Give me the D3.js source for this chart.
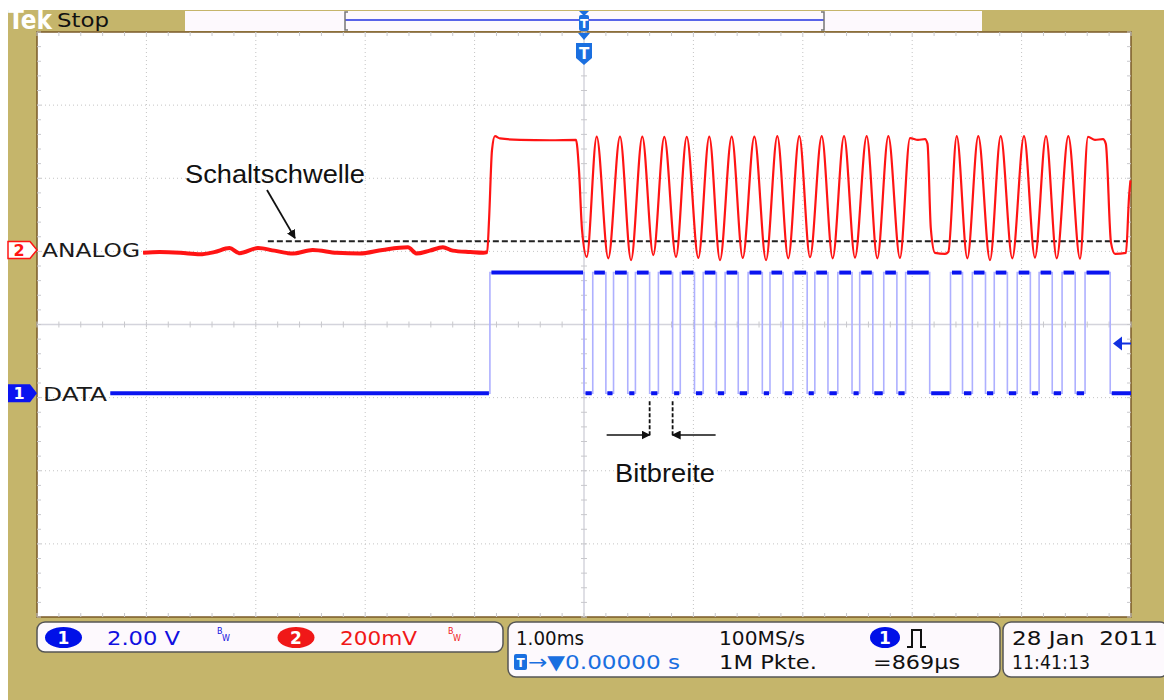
<!DOCTYPE html>
<html>
<head>
<meta charset="utf-8">
<script src="https://cdn.jsdelivr.net/npm/d3@7"></script>
<style>
body { margin: 0; background: #fff; }
svg text { font-family: "DejaVu Sans", sans-serif; white-space: pre; }
.note { font-family: "Liberation Sans", Arial, sans-serif; }
</style>
</head>
<body>
<svg id="chart" width="1164" height="700"></svg>
<script>
// ---- data ----

// DATA (ch1): times (ms, trigger = 0) of every edge, signal starts low
var dataEdgesMs = [-0.86, 0.00, 0.08, 0.20, 0.27, 0.40, 0.47, 0.60, 0.68, 0.81,
    0.88, 1.01, 1.09, 1.21, 1.29, 1.41, 1.50, 1.63, 1.70, 1.82,
    1.91, 2.04, 2.11, 2.23, 2.32, 2.45, 2.52, 2.64, 2.74, 2.86,
    2.94, 3.16, 3.35, 3.46, 3.55, 3.67, 3.75, 3.87, 3.96, 4.08,
    4.16, 4.28, 4.37, 4.49, 4.58, 4.81];
var dataLevelsV = [0, 3.3];        // low, high
var dataSpanMs = [-4.33, 5.0];     // visible part of the trace

// ANALOG (ch2): time (ms) and value (mV)
var analogMs = [-4.03, -3.88, -3.69, -3.51, -3.38, -3.24, -3.15, -2.98, -2.83, -2.66,
    -2.48, -2.26, -2.05, -1.84, -1.61, -1.53, -1.41, -1.29, -1.20, -1.04,
    -0.92, -0.885, -0.868, -0.841, -0.814, -0.768, -0.585, -0.311, -0.073, -0.046,
    -0.018, 0.025, 0.116, 0.222, 0.329, 0.430, 0.533, 0.633, 0.734, 0.841,
    0.939, 1.045, 1.145, 1.243, 1.350, 1.451, 1.557, 1.664, 1.767, 1.867,
    1.968, 2.066, 2.173, 2.273, 2.377, 2.477, 2.584, 2.681, 2.782, 2.888,
    2.98, 3.053, 3.117, 3.14, 3.17, 3.208, 3.30, 3.33, 3.407, 3.504,
    3.604, 3.711, 3.809, 3.915, 4.022, 4.122, 4.223, 4.321, 4.427, 4.534,
    4.607, 4.671, 4.744, 4.77, 4.817, 4.854, 4.954, 4.982, 4.995];
var analogMv = [-8, -6, -8, -12, -6, 5, -9, 5, -2, -10,
    0, -8, -10, 0, 7, -10, -2, 7, -2, -6,
    -8, -6, 82, 273, 311, 305, 301, 300, 301, 219,
    55, -19, 310, -23, 310, -28, 310, -14, 309, -19,
    309, -22, 310, -28, 310, -22, 310, -28, 311, -23,
    311, -20, 311, -23, 311, -21, 311, -23, 311, -22,
    306, 301, 303, 290, 60, -8, -11, -6, 311, -23,
    311, -28, 311, -23, 311, -21, 311, -23, 311, -24,
    309, 301, 303, 290, 20, -11, -8, 145, 190];

var thresholdMv = 24;
var thresholdFromMs = -2.89;
var bitMarksMs = [0.60, 0.81];
var triggerLevelV = 1.36;

// channel settings (volts per div, ground position in div)
var ch1 = { perDiv: 2.0, offset: -0.94 };
var ch2 = { perDiv: 200, offset: 1.02 };

// readout texts
var ch1Readout = ["1", "2.00 V"];
var ch2Readout = ["2", "200mV"];
var timeReadout = ["1.00ms", "0.00000 s"];
var acqReadout = ["100MS/s", "1M Pkte."];
var measReadout = ["1", "=869\u00b5s"];
var dateReadout = ["28 Jan  2011", "11:41:13"];

// ---- drawing ----
var svg = d3.select("#chart");
var plot = { left: 37, top: 32, right: 1131, bottom: 617 };

var x = d3.scaleLinear().domain([-5, 5]).range([plot.left, plot.right]);
var yDiv = d3.scaleLinear().domain([-4, 4]).range([plot.bottom, plot.top]);
function y1(v) { return yDiv(v / ch1.perDiv + ch1.offset); }
function y2(mv) { return yDiv(mv / ch2.perDiv + ch2.offset); }

var khaki = "#c5b56b";
var blue = "#0a14f0";
var red = "#ff1414";
var tblue = "#1a6fe0";

var defs = svg.append("defs");
defs.append("marker").attr("id", "ah")
    .attr("viewBox", "0 0 10 10").attr("refX", 9).attr("refY", 5)
    .attr("markerWidth", 9).attr("markerHeight", 9)
    .attr("markerUnits", "userSpaceOnUse")
    .attr("orient", "auto")
    .append("path").attr("d", "M0,0 L10,5 L0,10 Z").attr("fill", "#111");

// screen frame
svg.append("rect").attr("x", 8).attr("y", 10).attr("width", 1156).attr("height", 690).attr("fill", khaki);
svg.append("rect")
    .attr("x", plot.left).attr("y", plot.top)
    .attr("width", plot.right - plot.left).attr("height", plot.bottom - plot.top)
    .attr("fill", "#fff").attr("stroke", "#7a5a28").attr("stroke-width", 1.5);

// graticule
var grid = svg.append("g");
d3.range(-4, 5).filter(d => d !== 0).forEach(function(d) {
    grid.append("line").attr("x1", x(d)).attr("x2", x(d))
        .attr("y1", plot.top).attr("y2", plot.bottom)
        .attr("stroke", "#c4c4c4").attr("stroke-dasharray", "1,3");
});
d3.range(-3, 4).filter(d => d !== 0).forEach(function(d) {
    grid.append("line").attr("x1", plot.left).attr("x2", plot.right)
        .attr("y1", yDiv(d)).attr("y2", yDiv(d))
        .attr("stroke", "#c4c4c4").attr("stroke-dasharray", "1,3");
});
grid.append("line").attr("x1", x(0)).attr("x2", x(0))
    .attr("y1", plot.top).attr("y2", plot.bottom)
    .attr("stroke", "#d4d4dc").attr("stroke-width", 1.5);
grid.append("line").attr("x1", plot.left).attr("x2", plot.right)
    .attr("y1", yDiv(0)).attr("y2", yDiv(0))
    .attr("stroke", "#d4d4dc").attr("stroke-width", 1.5);

// minor ticks on centre lines and border
d3.range(-5, 5.01, 0.2).forEach(function(t) {
    [[yDiv(0) - 3, yDiv(0) + 3], [plot.top, plot.top + 4], [plot.bottom - 4, plot.bottom]].forEach(function(r) {
        grid.append("line").attr("x1", x(t)).attr("x2", x(t)).attr("y1", r[0]).attr("y2", r[1])
            .attr("stroke", "#c8c8cc");
    });
});
d3.range(-4, 4.01, 0.2).forEach(function(d) {
    [[x(0) - 3, x(0) + 3], [plot.left, plot.left + 4], [plot.right - 4, plot.right]].forEach(function(r) {
        grid.append("line").attr("y1", yDiv(d)).attr("y2", yDiv(d)).attr("x1", r[0]).attr("x2", r[1])
            .attr("stroke", "#c8c8cc");
    });
});

// threshold line (ANALOG)
svg.append("line")
    .attr("x1", x(thresholdFromMs)).attr("x2", plot.right - 3)
    .attr("y1", y2(thresholdMv)).attr("y2", y2(thresholdMv))
    .attr("stroke", "#222").attr("stroke-width", 2).attr("stroke-dasharray", "6,3");

// ANALOG trace
var analogPts = analogMs.map((t, i) => [t, analogMv[i]]);
var analogLine = d3.line().x(d => x(d[0])).y(d => y2(d[1])).curve(d3.curveMonotoneX);
svg.append("path").datum(analogPts).attr("d", analogLine)
    .attr("fill", "none").attr("stroke", red).attr("stroke-width", 2.2);
svg.append("path").datum(analogPts.filter(d => d[0] < -0.88)).attr("d", analogLine)
    .attr("fill", "none").attr("stroke", red).attr("stroke-width", 4);

// DATA trace: thin edges, thick levels
var times = [dataSpanMs[0]].concat(dataEdgesMs, [dataSpanMs[1]]);
var dataPts = [];
var segs = [];
for (var i = 0; i < times.length - 1; i++) {
    var lvl = dataLevelsV[i % 2];
    dataPts.push([times[i], lvl], [times[i + 1], lvl]);
    segs.push({ t0: times[i], t1: times[i + 1], v: lvl });
}
svg.append("path").datum(dataPts)
    .attr("d", d3.line().x(d => x(d[0])).y(d => y1(d[1])))
    .attr("fill", "none").attr("stroke", "#aeb0ff").attr("stroke-width", 1.6);
svg.selectAll(".lvl").data(segs).enter().append("line")
    .attr("x1", (d, i) => i === 0 ? x(d.t0) : x(d.t0) + 1.5)
    .attr("x2", (d, i) => i === segs.length - 1 ? x(d.t1) : x(d.t1) - 1)
    .attr("y1", d => y1(d.v)).attr("y2", d => y1(d.v))
    .attr("stroke", blue).attr("stroke-width", 4);

// trigger level arrow on the right
var ty = y1(triggerLevelV);
svg.append("path").attr("d", "M" + (plot.right - 18) + "," + ty + " l9,-7 v14 Z").attr("fill", "#1030e0");
svg.append("line").attr("x1", plot.right - 10).attr("x2", plot.right).attr("y1", ty).attr("y2", ty)
    .attr("stroke", "#1030e0").attr("stroke-width", 2);

// channel markers + labels
var y2g = y2(0), y1g = y1(0);
svg.append("path").attr("d", "M8," + (y2g - 8.5) + " h22 l7,8.5 l-7,8.5 h-22 Z")
    .attr("fill", "#fff").attr("stroke", red).attr("stroke-width", 1.5);
svg.append("text").attr("x", 19).attr("y", y2g + 6).attr("text-anchor", "middle")
    .attr("fill", red).attr("font-size", 16).attr("font-weight", "bold").text(ch2Readout[0]);
svg.append("path").attr("d", "M8," + (y1g - 9) + " h22 l7,9 l-7,9 h-22 Z").attr("fill", blue);
svg.append("text").attr("x", 19).attr("y", y1g + 6).attr("text-anchor", "middle")
    .attr("fill", "#fff").attr("font-size", 16).attr("font-weight", "bold").text(ch1Readout[0]);
svg.append("text").attr("x", 42).attr("y", y2g + 7).attr("font-size", 20)
    .attr("textLength", 98).attr("lengthAdjust", "spacingAndGlyphs").attr("fill", "#1a1a1a").text("ANALOG");
svg.append("text").attr("x", 43).attr("y", y1g + 8).attr("font-size", 20)
    .attr("textLength", 64).attr("lengthAdjust", "spacingAndGlyphs").attr("fill", "#1a1a1a").text("DATA");

// annotations
svg.append("text").attr("class", "note").attr("x", 185).attr("y", 183)
    .attr("font-size", 25).attr("textLength", 180).attr("lengthAdjust", "spacingAndGlyphs")
    .attr("fill", "#111").text("Schaltschwelle");
svg.append("line").attr("x1", 267).attr("y1", 190).attr("x2", 295).attr("y2", y2(thresholdMv) - 3)
    .attr("stroke", "#111").attr("stroke-width", 1.8).attr("marker-end", "url(#ah)");

var bitTop = y1(0) + 8, bitBot = 437, arrowY = 435;
bitMarksMs.forEach(function(t) {
    svg.append("line").attr("x1", x(t)).attr("x2", x(t)).attr("y1", bitTop).attr("y2", bitBot)
        .attr("stroke", "#111").attr("stroke-width", 1.8).attr("stroke-dasharray", "4,2");
});
svg.append("line").attr("x1", x(bitMarksMs[0]) - 43).attr("x2", x(bitMarksMs[0])).attr("y1", arrowY).attr("y2", arrowY)
    .attr("stroke", "#111").attr("stroke-width", 1.5).attr("marker-end", "url(#ah)");
svg.append("line").attr("x1", x(bitMarksMs[1]) + 43).attr("x2", x(bitMarksMs[1])).attr("y1", arrowY).attr("y2", arrowY)
    .attr("stroke", "#111").attr("stroke-width", 1.5).attr("marker-end", "url(#ah)");
svg.append("text").attr("class", "note").attr("x", 615).attr("y", 482)
    .attr("font-size", 25).attr("textLength", 100).attr("lengthAdjust", "spacingAndGlyphs")
    .attr("fill", "#111").text("Bitbreite");

// header
svg.append("text").attr("x", 8).attr("y", 29).attr("font-family", "Liberation Serif, serif")
    .attr("font-size", 26).attr("font-weight", "bold").attr("fill", "#fff")
    .attr("textLength", 44).attr("lengthAdjust", "spacingAndGlyphs").text("Tek");
svg.append("text").attr("x", 57).attr("y", 27).attr("font-size", 20).attr("fill", "#111")
    .attr("textLength", 52).attr("lengthAdjust", "spacingAndGlyphs").text("Stop");
svg.append("rect").attr("x", 185).attr("y", 11).attr("width", 797).attr("height", 20).attr("fill", "#fdf9fd");
svg.append("line").attr("x1", 345).attr("x2", 824).attr("y1", 20).attr("y2", 20)
    .attr("stroke", "#2030e0").attr("stroke-width", 1.5);
[345, 824].forEach(function(bx, k) {
    var dx = k === 0 ? 3 : -3;
    svg.append("path").attr("d", "M" + (bx + dx) + ",12 H" + bx + " V30 H" + (bx + dx))
        .attr("fill", "none").attr("stroke", "#777").attr("stroke-width", 1.5);
});

// trigger position markers
var tx = x(0);
svg.append("path").attr("d", "M" + (tx - 5) + ",11 h10 l-5,5 Z").attr("fill", tblue);
svg.append("rect").attr("x", tx - 5).attr("y", 15).attr("width", 10).attr("height", 16).attr("rx", 2).attr("fill", tblue);
svg.append("text").attr("x", tx).attr("y", 28).attr("text-anchor", "middle").attr("font-size", 12)
    .attr("font-weight", "bold").attr("fill", "#fff").text("T");
svg.append("path").attr("d", "M" + (tx - 6) + "," + (plot.top + 1) + " h12 l-6,7 Z").attr("fill", tblue);
svg.append("path").attr("d", "M" + (tx - 8) + ",43 h16 v15 l-8,7 l-8,-7 Z").attr("fill", tblue);
svg.append("text").attr("x", tx).attr("y", 59).attr("text-anchor", "middle").attr("font-size", 15)
    .attr("font-weight", "bold").attr("fill", "#fff").text("T");

// readout boxes
function box(x0, y0, w, h) {
    svg.append("rect").attr("x", x0).attr("y", y0).attr("width", w).attr("height", h).attr("rx", 8)
        .attr("fill", "#fdf9fd").attr("stroke", "#555").attr("stroke-width", 1.5);
}
function txt(x0, y0, s, col, len) {
    var t = svg.append("text").attr("x", x0).attr("y", y0).attr("font-size", 20).attr("fill", col).text(s);
    if (len) t.attr("textLength", len).attr("lengthAdjust", "spacingAndGlyphs");
    return t;
}
function badge(cx, cy, rx, s, col) {
    svg.append("ellipse").attr("cx", cx).attr("cy", cy).attr("rx", rx).attr("ry", 10.5).attr("fill", col);
    svg.append("text").attr("x", cx).attr("y", cy + 6.5).attr("text-anchor", "middle").attr("font-size", 17)
        .attr("font-weight", "bold").attr("fill", "#fff").text(s);
}
function bw(x0, col) {
    svg.append("text").attr("x", x0).attr("y", 634).attr("font-size", 8).attr("fill", col).text("B");
    svg.append("text").attr("x", x0 + 5).attr("y", 641).attr("font-size", 8).attr("fill", col).text("W");
}

box(37, 622, 466, 30);
badge(63.5, 637.5, 18.5, ch1Readout[0], "#0010e8");
txt(107, 645, ch1Readout[1], "#1010e0", 73);
bw(217, "#1010e0");
badge(296, 637.5, 18.5, ch2Readout[0], "#f01818");
txt(340, 645, ch2Readout[1], "#f01818", 77);
bw(448, "#f01818");

box(508, 622, 492, 55);
txt(516, 645, timeReadout[0], "#111", 68);
svg.append("rect").attr("x", 514).attr("y", 654).attr("width", 13).attr("height", 16).attr("rx", 2).attr("fill", tblue);
svg.append("text").attr("x", 520.5).attr("y", 667).attr("text-anchor", "middle").attr("font-size", 12)
    .attr("font-weight", "bold").attr("fill", "#fff").text("T");
txt(528, 669, "\u2192\u25BC" + timeReadout[1], tblue, 152);
txt(719, 645, acqReadout[0], "#111", 86);
txt(719, 669, acqReadout[1], "#111", 98);
badge(885, 637.5, 15, measReadout[0], "#0010e8");
svg.append("path").attr("d", "M907,647 h5 v-17 h9 v17 h5").attr("fill", "none").attr("stroke", "#111").attr("stroke-width", 2);
txt(873, 669, measReadout[1], "#111", 87);

box(1003, 622, 165, 55);
txt(1012, 645, dateReadout[0], "#111", 146);
txt(1012, 669, dateReadout[1], "#111", 78);
</script>
</body>
</html>
